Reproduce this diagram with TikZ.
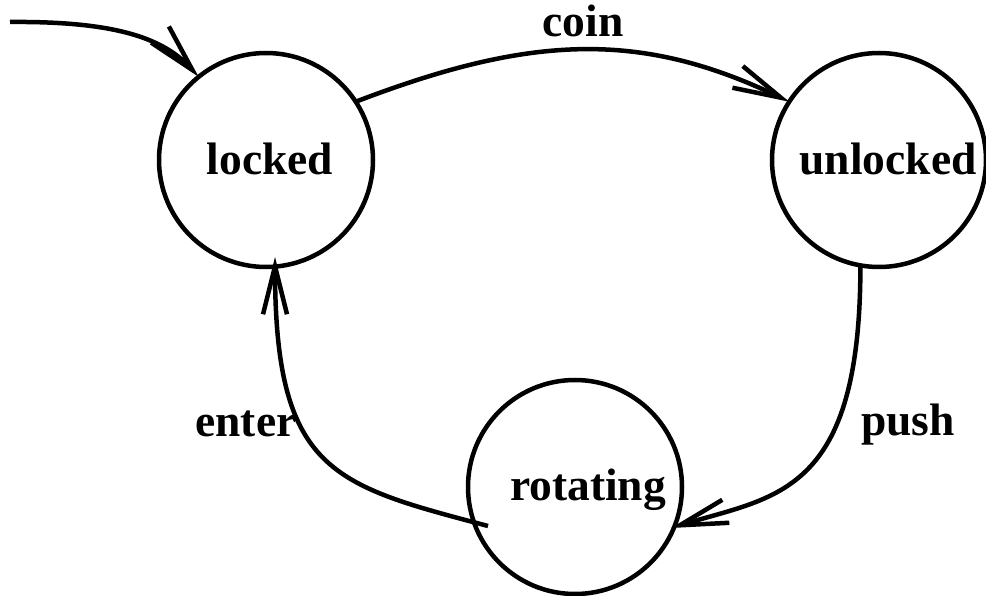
\documentclass[tikz,border=0pt]{standalone}
\usepackage{fontspec}
\setmainfont{Liberation Serif}
\usetikzlibrary{arrows.meta}
\begin{document}
\begin{tikzpicture}[x=1pt,y=1pt,
  state/.style={circle,draw,line width=4.5pt,minimum size=214pt,inner sep=0pt,outer sep=0pt},
  lbl/.style={font=\fontsize{45.5}{54}\selectfont\bfseries,inner sep=0pt,anchor=base},
  edge/.style={line width=4.5pt,-{Straight Barb[length=48pt,width=24pt,line width=4.5pt]}}]
\useasboundingbox (0,0) rectangle (986,595);
\node[state] (locked) at (266,435) {};
\node[state] (unlocked) at (879,435) {};
\node[state] (rotating) at (575,108) {};
\node[lbl] (tlocked) at (270,420) {locked};
\node[lbl] (tunlocked) at (888,420) {unlocked};
\node[lbl] (trotating) at (588,95) {rotating};
\coordinate (start) at (10,573);
\draw[edge] (start) .. controls (120,574) and (165,555) .. (locked.129);
\draw[edge] (locked.33) .. controls (530,560) and (640,565) .. (unlocked.147);
\draw[edge] (unlocked.-100) .. controls ([yshift=-230pt]unlocked.-100) and (776,99) .. ([shift={(96,-41)}]rotating.center);
\draw[edge] ([shift={(-87,-39)}]rotating.center) .. controls (333,110) and (275,123) .. ([shift={(9,-97)}]locked.center);
\node[lbl] (coin) at (583,558) {coin};
\node[lbl] (push) at (908,159) {push};
\node[lbl] (enter) at (246,158) {enter};
\end{tikzpicture}
\end{document}
